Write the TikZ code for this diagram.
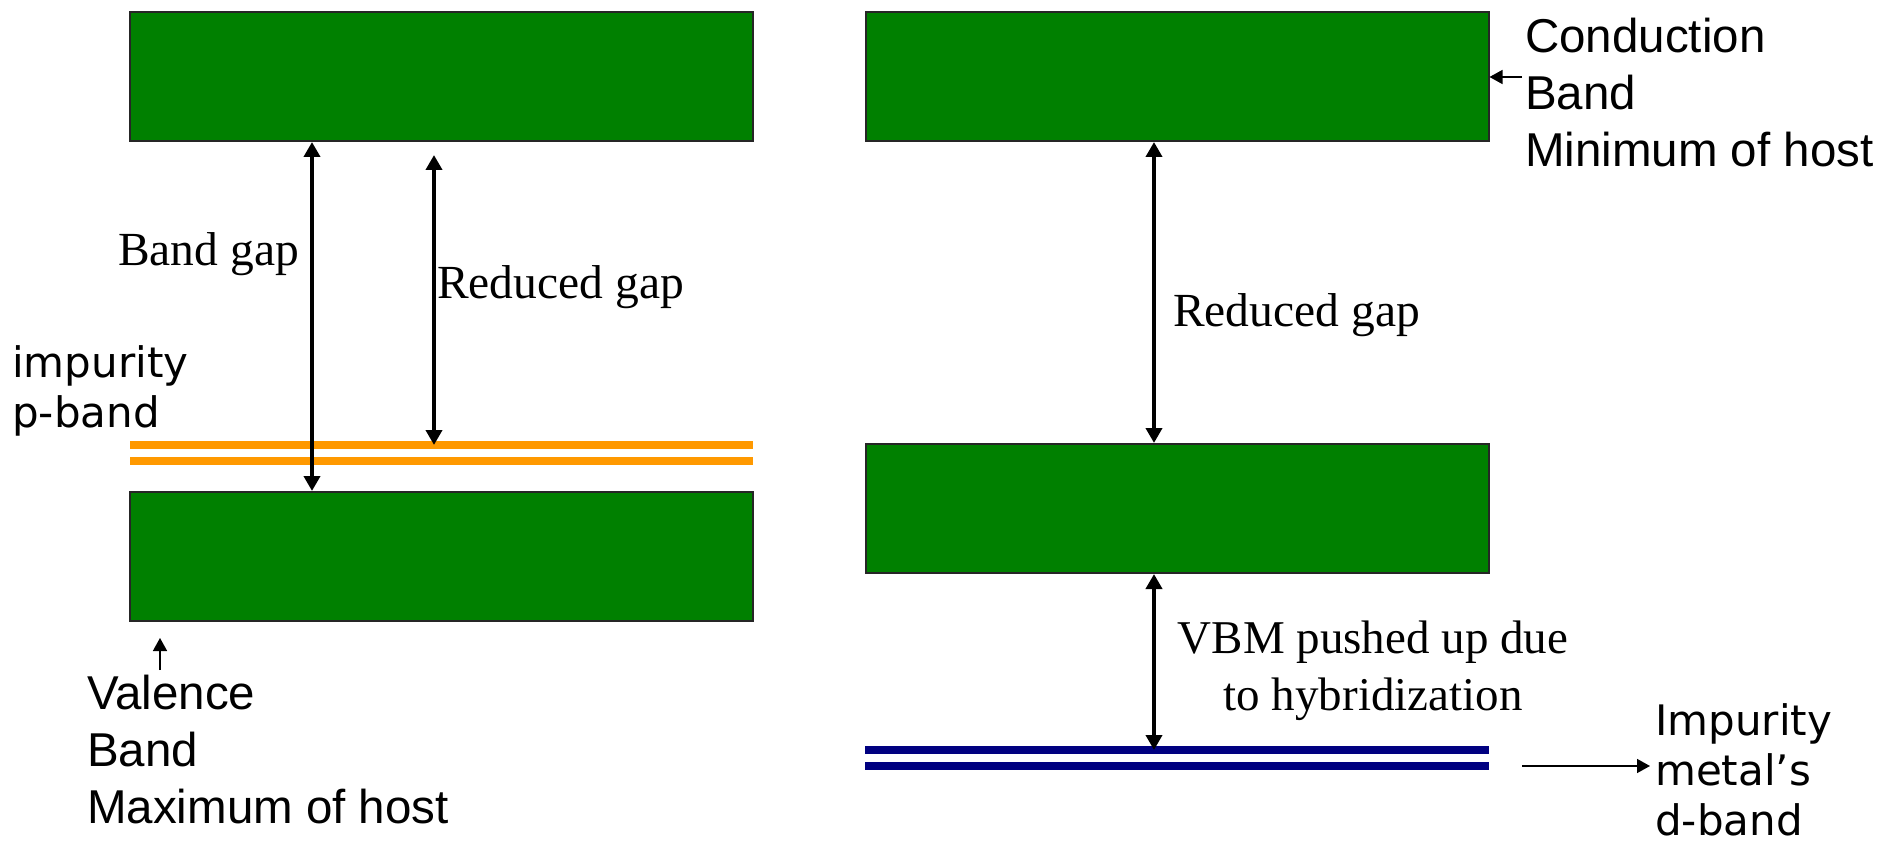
\documentclass[tikz,border=0pt]{standalone}
\usepackage{fontspec}
\setmainfont{Liberation Serif}
\newfontfamily\arialf{Liberation Sans}
\newfontfamily\verdf{DejaVu Sans}
\usetikzlibrary{arrows.meta}
\definecolor{bandgreen}{RGB}{0,128,0}
\definecolor{porange}{RGB}{255,153,0}
\definecolor{dnavy}{RGB}{0,0,128}
\tikzset{
  bandbox/.style={draw=black!85, line width=2pt, fill=bandgreen, minimum width=623pt, minimum height=129pt, inner sep=0pt},
  gaparrow/.style={line width=4.5pt, {Triangle[length=15pt,width=16pt]}-{Triangle[length=15pt,width=16pt]}},
  ptr/.style={line width=1.5pt, -{Triangle[length=13pt,width=14pt]}},
  orangeline/.style={line width=8pt, porange},
  navyline/.style={line width=8pt, dnavy},
  serifl/.style={inner sep=0pt, anchor=base west, font=\fontsize{47.5}{57}\selectfont},
  sansl/.style={inner sep=0pt, anchor=base west, align=left, font=\arialf\fontsize{47.5}{57}\selectfont},
  verdl/.style={inner sep=0pt, anchor=base west, align=left, font=\verdf\fontsize{42}{50}\selectfont},
}
\begin{document}
\begin{tikzpicture}[x=1pt,y=-1pt]
\useasboundingbox (0,0) rectangle (1883,842);
% bands
\node[bandbox] (cbL) at (441.5,76.5) {};
\node[bandbox] (vbL) at (441.5,556.5) {};
\node[bandbox] (cbR) at (1177,76.5) {};
\node[bandbox] (vbR) at (1177,508.5) {};
% impurity p-band (orange)
\coordinate (oA1) at (130,445); \coordinate (oA2) at (753,445);
\coordinate (oB1) at (130,461); \coordinate (oB2) at (753,461);
\draw[orangeline] (oA1) -- (oA2);
\draw[orangeline] (oB1) -- (oB2);
% impurity d-band (navy)
\coordinate (nA1) at (865,750); \coordinate (nA2) at (1489,750);
\coordinate (nB1) at (865,766); \coordinate (nB2) at (1489,766);
\draw[navyline] (nA1) -- (nA2);
\draw[navyline] (nB1) -- (nB2);
% gap arrows
\coordinate (xBG) at (312,0);
\coordinate (xRG) at (434,0);
\coordinate (xRR) at (1154,0);
\coordinate (rgTop) at (434,155);
\draw[gaparrow] (cbL.south -| xBG) -- (vbL.north -| xBG);
\draw[gaparrow] (rgTop) -- (oA1 -| xRG);
\draw[gaparrow] (cbR.south -| xRR) -- (vbR.north -| xRR);
\draw[gaparrow] (vbR.south -| xRR) -- (nA1 -| xRR);
% labels
\node[serifl] (lbg) at (118,266) {Band gap};
\node[serifl] (lrg) at (437,299) {Reduced gap};
\node[serifl] (rrg) at (1173,327) {Reduced gap};
\node[inner sep=0pt, anchor=base, align=center, font=\fontsize{47}{57}\selectfont] (vbm) at (1373,710) {VBM pushed up due\\to hybridization};
\node[sansl] (cbm) at (1525,167) {Conduction\\Band\\Minimum of host};
\node[sansl] (vbmx) at (87,823) {Valence\\Band\\Maximum of host};
\node[verdl] (ipb) at (12,427) {impurity\\p-band};
\node[verdl] (idb) at (1655,835) {Impurity\\metal’s\\d-band};
% pointer arrows
\coordinate (cbTail) at (1522,77);
\draw[ptr] (cbTail) -- (cbTail -| cbR.east);
\coordinate (vbTail) at (160,670);
\coordinate (vbHead) at (160,638);
\draw[ptr] (vbTail) -- (vbHead);
\coordinate (dbTail) at (1522,766);
\coordinate (dbHead) at (1650,766);
\draw[ptr] (dbTail) -- (dbHead);
\end{tikzpicture}
\end{document}
